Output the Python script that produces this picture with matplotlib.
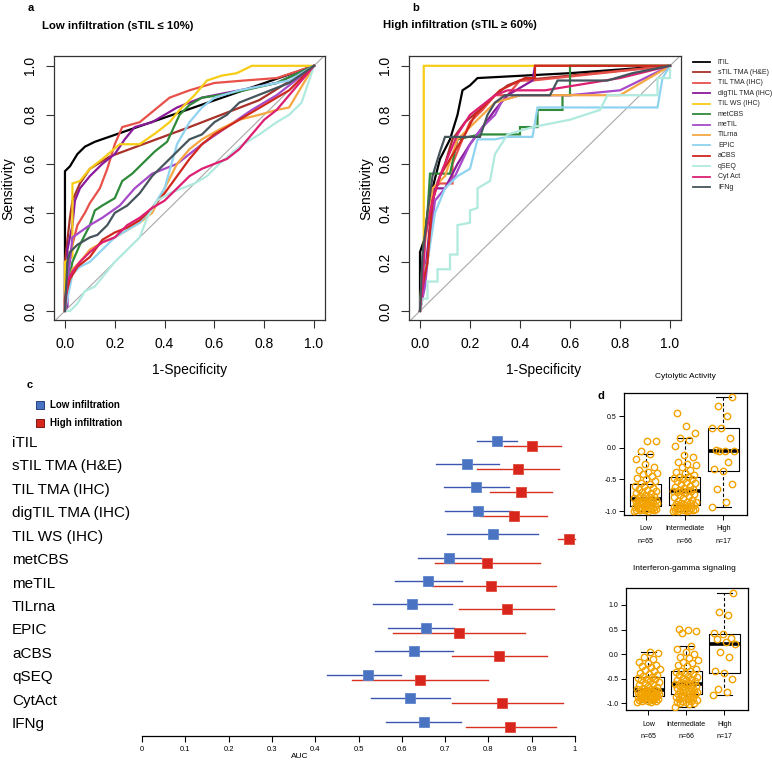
import numpy as np
import matplotlib
matplotlib.use('Agg')
import matplotlib.pyplot as plt
from matplotlib.lines import Line2D

plt.rcParams['font.family'] = ['Liberation Sans', 'DejaVu Sans']

# ---------------- data ----------------
methods = ['iTIL', 'sTIL TMA (H&E)', 'TIL TMA (IHC)', 'digTIL TMA (IHC)', 'TIL WS (IHC)',
           'metCBS', 'meTIL', 'TILrna', 'EPIC', 'aCBS', 'qSEQ', 'Cyt Act', 'IFNg']
forest_labels = ['iTIL', 'sTIL TMA (H&E)', 'TIL TMA (IHC)', 'digTIL TMA (IHC)', 'TIL WS (IHC)',
                 'metCBS', 'meTIL', 'TILrna', 'EPIC', 'aCBS', 'qSEQ', 'CytAct', 'IFNg']
colors = ['#000000', '#A8322A', '#E8504A', '#8B1A9A', '#F7CC16', '#2F8A3A', '#A64AC9',
          '#F5A742', '#8FD3F0', '#D0281E', '#B0EADF', '#DC1F73', '#46555C']

# ROC curves, low infiltration (fpr, tpr)
low_itil = ([0, 0, 0.02, 0.05, 0.08, 0.12, 1.0], [0, 0.57, 0.59, 0.64, 0.67, 0.69, 1.0])
low_stil = ([0, 0, 0.02, 0.03, 0.06, 0.1, 0.18, 0.5, 0.78, 1.0], [0, 0.2, 0.38, 0.45, 0.52, 0.58, 0.63, 0.75, 0.86, 1.0])
low_tiltma = ([0, 0, 0.01, 0.03, 0.05, 0.08, 0.1, 0.14, 0.17, 0.2, 0.23, 0.3, 0.36, 0.42, 0.5, 0.6, 0.72, 0.85, 1.0],
              [0, 0.1, 0.18, 0.27, 0.35, 0.4, 0.44, 0.5, 0.58, 0.68, 0.75, 0.77, 0.82, 0.87, 0.9, 0.93, 0.94, 0.95, 1.0])
low_digtil = ([0, 0.01, 0.01, 0.03, 0.04, 0.06, 0.1, 0.15, 0.2, 0.24, 0.28, 0.35, 0.45, 0.55, 0.7, 0.85, 1.0],
              [0, 0.02, 0.25, 0.35, 0.45, 0.5, 0.55, 0.6, 0.64, 0.7, 0.75, 0.77, 0.83, 0.87, 0.9, 0.93, 1.0])
low_tilws = ([0, 0, 0.03, 0.03, 0.06, 0.1, 0.15, 0.22, 0.3, 0.37, 0.42, 0.46, 0.52, 0.57, 0.63, 0.69, 0.75, 1.0],
             [0, 0.2, 0.22, 0.52, 0.53, 0.58, 0.62, 0.68, 0.68, 0.73, 0.77, 0.82, 0.88, 0.94, 0.96, 0.97, 1.0, 1.0])
low_metcbs = ([0, 0.01, 0.03, 0.06, 0.1, 0.12, 0.15, 0.2, 0.23, 0.27, 0.31, 0.36, 0.41, 0.46, 0.5, 0.55, 0.62, 0.72, 0.85, 1.0],
              [0, 0.1, 0.2, 0.27, 0.35, 0.41, 0.43, 0.46, 0.53, 0.56, 0.6, 0.65, 0.69, 0.8, 0.84, 0.87, 0.88, 0.9, 0.93, 1.0])
low_metil = ([0, 0, 0.02, 0.03, 0.1, 0.15, 0.22, 0.28, 0.35, 0.45, 0.55, 0.65, 0.75, 0.85, 1.0],
             [0, 0.05, 0.2, 0.3, 0.35, 0.38, 0.43, 0.5, 0.56, 0.6, 0.68, 0.75, 0.82, 0.88, 1.0])
low_tilrna = ([0, 0.01, 0.03, 0.06, 0.1, 0.15, 0.2, 0.25, 0.3, 0.35, 0.4, 0.45, 0.5, 0.55, 0.62, 0.7, 0.78, 0.85, 0.9, 1.0],
              [0, 0.1, 0.17, 0.2, 0.25, 0.28, 0.3, 0.33, 0.36, 0.4, 0.5, 0.6, 0.66, 0.7, 0.74, 0.78, 0.8, 0.82, 0.83, 1.0])
low_epic = ([0, 0.01, 0.03, 0.06, 0.1, 0.15, 0.2, 0.25, 0.3, 0.35, 0.4, 0.45, 0.5, 0.55, 0.6, 0.7, 0.8, 0.9, 1.0],
            [0, 0.05, 0.15, 0.18, 0.2, 0.25, 0.3, 0.33, 0.36, 0.42, 0.5, 0.68, 0.77, 0.83, 0.87, 0.9, 0.92, 0.94, 1.0])
low_acbs = ([0, 0, 0.02, 0.05, 0.1, 0.15, 0.2, 0.25, 0.3, 0.35, 0.4, 0.45, 0.5, 0.55, 0.6, 0.7, 0.8, 0.9, 1.0],
            [0, 0.05, 0.13, 0.18, 0.22, 0.29, 0.32, 0.34, 0.37, 0.42, 0.48, 0.55, 0.62, 0.68, 0.72, 0.78, 0.84, 0.9, 1.0])
low_qseq = ([0, 0.02, 0.05, 0.08, 0.12, 0.16, 0.2, 0.25, 0.3, 0.33, 0.37, 0.42, 0.47, 0.52, 0.57, 0.62, 0.7, 0.78, 0.85, 0.9, 0.95, 1.0],
            [0, 0.0, 0.03, 0.08, 0.1, 0.15, 0.2, 0.25, 0.3, 0.38, 0.45, 0.48, 0.5, 0.52, 0.55, 0.6, 0.67, 0.72, 0.77, 0.8, 0.85, 1.0])
low_cytact = ([0, 0.01, 0.03, 0.06, 0.1, 0.15, 0.2, 0.25, 0.3, 0.35, 0.4, 0.45, 0.5, 0.55, 0.6, 0.65, 0.7, 0.75, 0.8, 0.85, 0.9, 1.0],
              [0, 0.12, 0.16, 0.2, 0.24, 0.28, 0.3, 0.35, 0.38, 0.42, 0.45, 0.5, 0.55, 0.58, 0.6, 0.62, 0.66, 0.72, 0.78, 0.82, 0.88, 1.0])
low_ifng = ([0, 0.01, 0.02, 0.05, 0.1, 0.13, 0.17, 0.2, 0.25, 0.3, 0.35, 0.4, 0.45, 0.5, 0.55, 0.6, 0.65, 0.7, 0.8, 0.9, 1.0],
            [0, 0.2, 0.24, 0.27, 0.3, 0.31, 0.35, 0.4, 0.43, 0.48, 0.55, 0.6, 0.65, 0.7, 0.72, 0.77, 0.8, 0.85, 0.89, 0.93, 1.0])

# ROC curves, high infiltration (fpr, tpr)
high_itil = ([0, 0, 0.02, 0.03, 0.05, 0.08, 0.1, 0.12, 0.15, 0.17, 0.2, 0.23, 0.6, 1.0],
             [0, 0.24, 0.3, 0.4, 0.5, 0.62, 0.66, 0.7, 0.8, 0.9, 0.92, 0.95, 0.97, 1.0])
high_stil = ([0, 0.01, 0.02, 0.04, 0.06, 0.1, 0.13, 0.18, 0.25, 0.3, 0.35, 0.4, 0.6, 1.0],
             [0, 0.1, 0.3, 0.45, 0.5, 0.6, 0.7, 0.77, 0.83, 0.88, 0.92, 0.94, 0.96, 1.0])
high_tiltma = ([0, 0.01, 0.03, 0.05, 0.08, 0.13, 0.13, 0.17, 0.2, 0.25, 0.3, 0.35, 0.4, 0.45, 1.0],
               [0, 0.1, 0.2, 0.5, 0.52, 0.52, 0.6, 0.7, 0.77, 0.82, 0.88, 0.88, 0.94, 0.94, 1.0])
high_digtil = ([0, 0.01, 0.02, 0.04, 0.06, 0.1, 0.15, 0.2, 0.25, 0.3, 0.35, 0.45, 0.46, 1.0],
               [0, 0.06, 0.15, 0.35, 0.5, 0.5, 0.6, 0.68, 0.75, 0.82, 0.88, 0.94, 1.0, 1.0])
high_tilws = ([0, 0.015, 0.015, 1.0], [0, 0.2, 1.0, 1.0])
high_metcbs = ([0, 0.01, 0.03, 0.04, 0.12, 0.15, 0.24, 0.4, 0.4, 0.47, 0.47, 0.57, 0.57, 0.6, 0.6, 1.0],
               [0, 0.2, 0.4, 0.56, 0.56, 0.7, 0.72, 0.72, 0.75, 0.75, 0.82, 0.82, 0.88, 0.88, 1.0, 1.0])
high_metil = ([0, 0.02, 0.04, 0.06, 0.1, 0.14, 0.2, 0.25, 0.3, 0.33, 0.4, 0.6, 0.8, 1.0],
              [0, 0.1, 0.3, 0.45, 0.5, 0.55, 0.68, 0.75, 0.8, 0.86, 0.88, 0.88, 0.9, 1.0])
high_tilrna = ([0, 0.01, 0.03, 0.05, 0.1, 0.15, 0.2, 0.25, 0.3, 0.4, 0.6, 0.8, 1.0],
               [0, 0.2, 0.35, 0.5, 0.55, 0.7, 0.75, 0.8, 0.85, 0.88, 0.88, 0.88, 1.0])
high_epic = ([0, 0.01, 0.03, 0.06, 0.1, 0.15, 0.2, 0.23, 0.3, 0.35, 0.45, 0.47, 0.95, 0.97, 1.0],
             [0, 0.15, 0.2, 0.4, 0.5, 0.55, 0.58, 0.7, 0.7, 0.71, 0.71, 0.83, 0.83, 0.95, 1.0])
high_acbs = ([0, 0.01, 0.03, 0.05, 0.08, 0.12, 0.18, 0.22, 0.28, 0.32, 0.42, 0.46, 0.46, 1.0],
             [0, 0.1, 0.2, 0.45, 0.55, 0.62, 0.72, 0.8, 0.86, 0.9, 0.95, 0.95, 1.0, 1.0])
high_qseq = ([0, 0.01, 0.03, 0.03, 0.07, 0.07, 0.12, 0.12, 0.15, 0.15, 0.2, 0.2, 0.23, 0.23, 0.28, 0.3, 0.35,
              0.45, 0.6, 0.72, 0.75, 0.95, 0.95, 1.0, 1.0],
             [0, 0.05, 0.05, 0.12, 0.12, 0.17, 0.17, 0.23, 0.23, 0.35, 0.36, 0.41, 0.42, 0.5, 0.53, 0.64, 0.72,
              0.75, 0.78, 0.82, 0.88, 0.88, 0.95, 0.95, 1.0])
high_cytact = ([0, 0.01, 0.02, 0.05, 0.08, 0.1, 0.15, 0.2, 0.25, 0.3, 0.35, 0.5, 0.8, 1.0],
               [0, 0.1, 0.3, 0.45, 0.55, 0.6, 0.72, 0.8, 0.84, 0.88, 0.9, 0.9, 0.95, 1.0])
high_ifng = ([0, 0.01, 0.03, 0.05, 0.08, 0.1, 0.24, 0.27, 0.3, 0.34, 0.52, 0.55, 0.75, 0.85, 1.0],
             [0, 0.23, 0.4, 0.55, 0.65, 0.71, 0.71, 0.8, 0.85, 0.88, 0.88, 0.94, 0.94, 0.97, 1.0])

roc_low = [low_itil, low_stil, low_tiltma, low_digtil, low_tilws, low_metcbs, low_metil,
           low_tilrna, low_epic, low_acbs, low_qseq, low_cytact, low_ifng]
roc_high = [high_itil, high_stil, high_tiltma, high_digtil, high_tilws, high_metcbs, high_metil,
            high_tilrna, high_epic, high_acbs, high_qseq, high_cytact, high_ifng]

# Forest plot (AUC and 95% CI)
low_auc = [0.819, 0.751, 0.772, 0.777, 0.810, 0.709, 0.661, 0.624, 0.656, 0.629, 0.523, 0.620, 0.651]
low_lo = [0.773, 0.678, 0.697, 0.700, 0.705, 0.638, 0.584, 0.534, 0.567, 0.538, 0.427, 0.530, 0.563]
low_hi = [0.865, 0.824, 0.848, 0.854, 0.915, 0.782, 0.738, 0.715, 0.721, 0.719, 0.597, 0.711, 0.737]
high_auc = [0.900, 0.868, 0.875, 0.858, 0.987, 0.797, 0.806, 0.842, 0.732, 0.825, 0.642, 0.832, 0.851]
high_lo = [0.836, 0.773, 0.804, 0.781, 0.961, 0.677, 0.669, 0.731, 0.580, 0.717, 0.486, 0.715, 0.748]
high_hi = [0.967, 0.964, 0.946, 0.935, 1.000, 0.919, 0.955, 0.951, 0.885, 0.935, 0.798, 0.972, 0.957]
auc_ticks = [0, 0.1, 0.2, 0.3, 0.4, 0.5, 0.6, 0.7, 0.8, 0.9, 1]
auc_tick_labels = ['0', '0.1', '0.2', '0.3', '0.4', '0.5', '0.6', '0.7', '0.8', '0.9', '1']

# Box plots (panel d)
groups = ['Low', 'Intermediate', 'High']
group_n = ['n=65', 'n=66', 'n=17']
cyt_low = [-1.0, -1.0, -0.99, -0.99, -0.98, -0.98, -0.97, -0.97, -0.96, -0.96, -0.95, -0.95, -0.94, -0.94,
           -0.93, -0.93, -0.92, -0.91, -0.90, -0.90, -0.89, -0.88, -0.88, -0.87, -0.86, -0.86, -0.85, -0.84,
           -0.84, -0.83, -0.82, -0.82, -0.81, -0.80, -0.79, -0.78, -0.77, -0.76, -0.74, -0.72, -0.71, -0.70,
           -0.68, -0.66, -0.65, -0.63, -0.61, -0.60, -0.58, -0.55, -0.52, -0.50, -0.48, -0.45, -0.42, -0.40,
           -0.38, -0.35, -0.30, -0.25, -0.18, -0.10, -0.05, 0.10, 0.11]
cyt_int = [-1.0, -1.0, -1.0, -0.99, -0.99, -0.98, -0.98, -0.97, -0.97, -0.96, -0.96, -0.95, -0.94, -0.93,
           -0.92, -0.91, -0.90, -0.90, -0.89, -0.88, -0.87, -0.86, -0.85, -0.84, -0.82, -0.80, -0.78, -0.77,
           -0.75, -0.73, -0.72, -0.70, -0.69, -0.69, -0.68, -0.67, -0.66, -0.65, -0.63, -0.62, -0.60, -0.58,
           -0.56, -0.54, -0.52, -0.50, -0.49, -0.48, -0.46, -0.46, -0.43, -0.40, -0.38, -0.35, -0.30, -0.27,
           -0.25, -0.22, -0.15, -0.12, 0.02, 0.12, 0.16, 0.23, 0.35, 0.55]
cyt_high = [-0.94, -0.85, -0.65, -0.58, -0.36, -0.34, -0.22, -0.06, -0.05, -0.05, -0.04, 0.15, 0.31, 0.31,
            0.50, 0.65, 0.80]
ifn_low = [-0.98, -0.97, -0.96, -0.95, -0.95, -0.94, -0.93, -0.92, -0.92, -0.91, -0.90, -0.90, -0.89, -0.88,
           -0.88, -0.87, -0.86, -0.85, -0.84, -0.83, -0.82, -0.81, -0.80, -0.80, -0.79, -0.78, -0.77, -0.76,
           -0.76, -0.75, -0.74, -0.74, -0.73, -0.72, -0.71, -0.70, -0.68, -0.66, -0.64, -0.62, -0.60, -0.58,
           -0.56, -0.55, -0.53, -0.51, -0.50, -0.48, -0.47, -0.45, -0.42, -0.40, -0.38, -0.35, -0.32, -0.30,
           -0.27, -0.25, -0.22, -0.18, -0.15, -0.10, -0.05, 0.02, 0.05]
ifn_int = [-1.07, -1.02, -1.0, -0.99, -0.98, -0.97, -0.96, -0.95, -0.94, -0.92, -0.91, -0.90, -0.88, -0.87,
           -0.85, -0.84, -0.82, -0.82, -0.81, -0.80, -0.78, -0.77, -0.75, -0.74, -0.72, -0.70, -0.69, -0.67,
           -0.66, -0.64, -0.63, -0.62, -0.61, -0.61, -0.60, -0.58, -0.57, -0.55, -0.53, -0.52, -0.50, -0.48,
           -0.46, -0.44, -0.42, -0.40, -0.38, -0.36, -0.34, -0.34, -0.30, -0.25, -0.22, -0.18, -0.15, -0.12,
           -0.08, -0.05, 0.0, 0.05, 0.10, 0.16, 0.42, 0.48, 0.50, 0.52]
ifn_high = [-0.83, -0.78, -0.70, -0.50, -0.38, -0.35, -0.05, 0.05, 0.20, 0.25, 0.30, 0.32, 0.40, 0.42,
            0.80, 0.85, 1.25]

# ---------------- figure ----------------
W, H = 772, 762
fig = plt.figure(figsize=(W / 100, H / 100), dpi=100)


def px_axes(l, t, r, b):
    return fig.add_axes([l / W, 1 - b / H, (r - l) / W, (b - t) / H])


def fx(x):
    return x / W


def fy(y):
    return 1 - y / H


def roc_panel(ax, curves):
    ax.axline((0, 0), (1, 1), color='#a8a8a8', lw=0.8, zorder=1)
    for (f, t), c in zip(curves, colors):
        ax.plot(f, t, color=c, lw=1.6, solid_joinstyle='miter', zorder=2)
    ax.set_xlim(-0.044, 1.044)
    ax.set_ylim(-0.037, 1.04)
    ticks = [0, 0.2, 0.4, 0.6, 0.8, 1.0]
    ax.set_xticks(ticks)
    ax.set_yticks(ticks)
    ax.set_xticklabels(['%.1f' % v for v in ticks])
    ax.set_yticklabels(['%.1f' % v for v in ticks], rotation=90, va='center')
    ax.tick_params(direction='out', length=6, width=0.8, labelsize=10, pad=6, color='#333333')
    for s in ax.spines.values():
        s.set_linewidth(0.9)
        s.set_color('#333333')


ax_a = px_axes(54, 56, 325, 320)
roc_panel(ax_a, roc_low)
ax_b = px_axes(409, 56, 681, 320)
roc_panel(ax_b, roc_high)

fig.text(fx(28), fy(8), 'a', fontsize=8, fontweight='bold', ha='left', va='center')
fig.text(fx(42), fy(26), 'Low infiltration (sTIL \u2264 10%)', fontsize=8.2, fontweight='bold', ha='left', va='center')
fig.text(fx(412), fy(8), 'b', fontsize=8, fontweight='bold', ha='left', va='center')
fig.text(fx(383), fy(25), 'High infiltration (sTIL \u2265 60%)', fontsize=8.2, fontweight='bold', ha='left', va='center')
for cx in (190, 544):
    fig.text(fx(cx), fy(370), '1-Specificity', fontsize=10, ha='center', va='center')
for cx in (8, 366):
    fig.text(fx(cx), fy(189), 'Sensitivity', fontsize=10, ha='center', va='center', rotation=90)

# legend for ROC panels
for k, (name, c) in enumerate(zip(methods, colors)):
    yy = fy(62 + 10.42 * k)
    fig.add_artist(Line2D([fx(693), fx(710)], [yy, yy], color=c, lw=1.3))
    fig.text(fx(718), yy, name, fontsize=5, ha='left', va='center', color='#222222')

# ---------------- panel c ----------------
ax_c = px_axes(0, 430, 600, 736)
row0, drow = 443, 23.42
x0px, x1px = 142, 575
scale = x1px - x0px
ax_c.set_xlim(-x0px / scale, (600 - x0px) / scale)
ax_c.set_ylim((736 - row0) / drow, (430 - row0) / drow)
rows = np.arange(len(forest_labels))
off = 2.5 / drow
blue_line, blue_fill = '#3B55B0', '#4A74C2'
red_line, red_fill = '#D8301F', '#D9261C'
for i in rows:
    ax_c.plot([low_lo[i], low_hi[i]], [i - off, i - off], color=blue_line, lw=1.0, zorder=2)
    ax_c.plot([high_lo[i], high_hi[i]], [i + off, i + off], color=red_line, lw=1.0, zorder=2)
ax_c.plot(low_auc, rows - off, 's', color=blue_fill, ms=7, mec='#5E86CC', mew=0.6, ls='none', zorder=3)
ax_c.plot(high_auc, rows + off, 's', color=red_fill, ms=7, mec='#E04A3A', mew=0.6, ls='none', zorder=3)
for i, lab in enumerate(forest_labels):
    ax_c.text((12 - x0px) / scale, i, lab, fontsize=11, ha='left', va='center')
for s in ['top', 'right', 'left']:
    ax_c.spines[s].set_visible(False)
ax_c.spines['bottom'].set_bounds(0, 1)
ax_c.spines['bottom'].set_linewidth(0.9)
ax_c.set_yticks([])
ax_c.set_xticks(auc_ticks)
ax_c.set_xticklabels(auc_tick_labels)
ax_c.tick_params(axis='x', direction='out', length=4, width=0.8, labelsize=5.5, pad=3)
ax_c.set_xlabel('AUC', fontsize=6, labelpad=0)
ax_c.patch.set_visible(False)

fig.text(fx(27), fy(385), 'c', fontsize=8, fontweight='bold', ha='left', va='center')
fig.add_artist(Line2D([fx(40)], [fy(405)], marker='s', ms=5.5, color=blue_fill, mec='#2a3f80', mew=0.7))
fig.add_artist(Line2D([fx(40)], [fy(423)], marker='s', ms=5.5, color=red_fill, mec='#7a1a10', mew=0.7))
fig.text(fx(50), fy(405), 'Low infiltration', fontsize=7, fontweight='bold', ha='left', va='center')
fig.text(fx(50), fy(423), 'High infiltration', fontsize=7, fontweight='bold', ha='left', va='center')

# ---------------- panel d ----------------
def jitter(n):
    return np.array([((i * 0.61803398875) % 1.0 - 0.5) * 0.6 for i in range(n)])


def box_panel(ax, data, xlim, ylim, yticks, title, title_xy, lab_y):
    ax.boxplot(data, positions=[1, 2, 3], widths=0.8, whis=1.5, showfliers=False,
               boxprops=dict(color='black', lw=0.8),
               medianprops=dict(color='black', lw=2.6, solid_capstyle='butt'),
               whiskerprops=dict(color='black', lw=0.8, ls=(0, (3, 2))),
               capprops=dict(color='black', lw=0.8), capwidths=0.4)
    for k, vals in enumerate(data):
        ax.plot(k + 1 + jitter(len(vals)), vals, 'o', mfc='none', mec='#F2A300', mew=1.0, ms=4.6,
                ls='none', zorder=4)
    ax.set_xlim(*xlim)
    ax.set_ylim(*ylim)
    ax.set_yticks(yticks)
    ax.set_yticklabels(['%.1f' % v for v in yticks])
    ax.set_xticks([1, 2, 3])
    ax.set_xticklabels(['', '', ''])
    ax.tick_params(direction='out', length=3.5, width=0.7, labelsize=5, pad=2)
    for s in ax.spines.values():
        s.set_linewidth(0.9)
    fig.text(fx(title_xy[0]), fy(title_xy[1]), title, fontsize=6, ha='center', va='center')
    for k in range(3):
        xd = ax.transData.transform((k + 1, 0))[0]
        fig.text(xd / W, fy(lab_y), groups[k], fontsize=5, ha='center', va='center')
        fig.text(xd / W, fy(lab_y + 12.7), group_n[k], fontsize=5, ha='center', va='center')


ax_d1 = px_axes(624, 393, 747, 515)
box_panel(ax_d1, [cyt_low, cyt_int, cyt_high], (0.44, 3.61), (-1.062, 0.863), [-1.0, -0.5, 0.0, 0.5],
          'Cytolytic Activity', (685, 377), 529)
ax_d2 = px_axes(626, 588, 748, 710)
box_panel(ax_d2, [ifn_low, ifn_int, ifn_high], (0.413, 3.62), (-1.136, 1.345), [-1.0, -0.5, 0.0, 0.5, 1.0],
          'Interferon-gamma signaling', (684, 569), 724)

fig.text(fx(597), fy(396), 'd', fontsize=8, fontweight='bold', ha='left', va='center')

fig.savefig('out.png', dpi=100)
